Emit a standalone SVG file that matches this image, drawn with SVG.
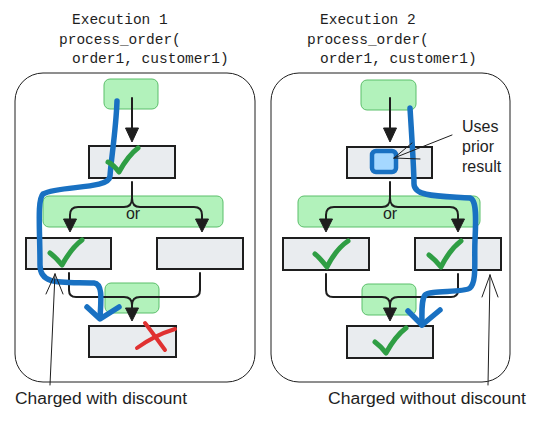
<svg xmlns="http://www.w3.org/2000/svg" width="538" height="421" viewBox="0 0 538 421">
<style>
.frame{fill:#ffffff;stroke:#1e1e1e;stroke-width:1}
.grn{fill:#b2f2bb;stroke:#5bbf6a;stroke-width:1}
.box{fill:#e9ecef;stroke:#1e1e1e;stroke-width:2}
.line{fill:none;stroke:#1e1e1e;stroke-width:2;stroke-linecap:round;stroke-linejoin:round}
.head{fill:#1e1e1e;stroke:#1e1e1e;stroke-width:1;stroke-linejoin:round}
.chk{fill:none;stroke:#2f9e44;stroke-width:5;stroke-linecap:round;stroke-linejoin:round}
.x{fill:none;stroke:#e03131;stroke-width:4;stroke-linecap:round}
.blue{fill:none;stroke:#1971c2;stroke-width:5.5;stroke-linecap:round;stroke-linejoin:round}
.thin{fill:none;stroke:#1e1e1e;stroke-width:1;stroke-linecap:round}
.mono{font-family:"Liberation Mono","DejaVu Sans Mono",monospace;font-size:14.5px;fill:#1e1e1e}
.hand{font-family:"Liberation Sans","DejaVu Sans",sans-serif;font-size:16px;fill:#1e1e1e}
</style>

<!-- Titles -->
<g id="title1">
<text class="mono" x="72" y="24">Execution 1</text>
<text class="mono" x="59" y="44">process_order(</text>
<text class="mono" x="72" y="63">order1, customer1)</text>
</g>
<g id="title2">
<text class="mono" x="320" y="24">Execution 2</text>
<text class="mono" x="307" y="44">process_order(</text>
<text class="mono" x="320" y="63">order1, customer1)</text>
</g>

<!-- Frames -->
<g id="frame1"><rect class="frame" x="15" y="73" width="240" height="309" rx="28"/></g>
<g id="frame2"><rect class="frame" x="271" y="73" width="239" height="309" rx="28"/></g>

<!-- Left panel nodes -->
<g id="l-start"><rect class="grn" x="104" y="79" width="54" height="30" rx="6"/></g>
<g id="l-or"><rect class="grn" x="43" y="196" width="180" height="31" rx="6"/>
<text class="hand" x="133" y="219" text-anchor="middle" font-size="17">or</text></g>
<g id="l-join"><rect class="grn" x="105" y="283" width="54" height="30" rx="6"/></g>
<g id="l-step1"><rect class="box" x="89" y="146" width="86" height="32"/></g>
<g id="l-left"><rect class="box" x="26" y="238" width="85" height="31"/></g>
<g id="l-right"><rect class="box" x="157" y="238" width="86" height="31"/></g>
<g id="l-final"><rect class="box" x="89" y="326" width="87" height="31"/></g>

<!-- Right panel nodes -->
<g id="r-start"><rect class="grn" x="361" y="80" width="55" height="30" rx="6"/></g>
<g id="r-or"><rect class="grn" x="298" y="196" width="182" height="31" rx="6"/>
<text class="hand" x="390" y="219" text-anchor="middle" font-size="17">or</text></g>
<g id="r-join"><rect class="grn" x="362" y="284" width="54" height="31" rx="6"/></g>
<g id="r-step1"><rect class="box" x="347" y="147" width="85" height="31"/></g>
<g id="r-left"><rect class="box" x="283" y="238" width="86" height="32"/></g>
<g id="r-right"><rect class="box" x="415" y="238" width="86" height="32"/></g>
<g id="r-final"><rect class="box" x="347" y="326" width="86" height="32"/></g>

<!-- Connectors -->
<g id="connectors">
<!-- left -->
<path class="line" d="M132,98 L132,130"/>
<polygon class="head" points="132,142 125.5,128 138.5,128"/>
<path class="line" d="M132,182 L132,198 Q132,207 124,207 L78,207 Q70,207 70,215 L70,222 M132,198 Q132,207 140,207 L194,207 Q202,207 202,215 L202,222"/>
<polygon class="head" points="70,232 63.5,219 76.5,219"/>
<polygon class="head" points="202,232 195.5,219 208.5,219"/>
<path class="line" d="M69,273 L69,290 Q69,297 76,297 L124,297 Q132,297 132,305 L132,310 M200,273 L200,290 Q200,297 193,297 L140,297 Q132,297 132,305"/>
<polygon class="head" points="132,321 125.5,308 138.5,308"/>
<!-- right -->
<path class="line" d="M390,98 L390,130"/>
<polygon class="head" points="390,142 383.5,128 396.5,128"/>
<path class="line" d="M390,182 L390,198 Q390,207 382,207 L334,207 Q326,207 326,215 L326,222 M390,198 Q390,207 398,207 L450,207 Q458,207 458,215 L458,222"/>
<polygon class="head" points="326,232 319.5,219 332.5,219"/>
<polygon class="head" points="458,232 451.5,219 464.5,219"/>
<path class="line" d="M326,274 L326,290 Q326,297 333,297 L382,297 Q390,297 390,305 L390,310 M458,274 L458,290 Q458,297 451,297 L398,297 Q390,297 390,305"/>
<polygon class="head" points="390,321 383.5,308 396.5,308"/>
</g>

<!-- Execution paths -->
<g id="path1">
<path class="blue" d="M117,101 C116,130 111,160 110,176 C109,190 60,185 43,194 C37,200 40,230 40,265 C40,286 62,282 94,283 C103,284 101,300 100,318"/>
<path class="blue" d="M87,307 L100,319 L119,307"/>
</g>
<g id="path2">
<path class="blue" d="M410,108 C412,140 414,170 414,184 C414,197 440,196 470,198 C477,200 476,220 475,240 C474,260 477,282 470,288 C464,293 430,290 425,295 C421,300 422,315 422,325"/>
<path class="blue" d="M408,311 L422,325 L440,310"/>
</g>

<!-- Marks -->
<g id="marks">
<path class="chk" d="M108,162 C112,164 116,168 119,172 C124,163 130,154 138,148"/>
<path class="chk" d="M50,253 C54,256 58,260 62,265 C67,256 74,246 82,240"/>
<path class="chk" d="M315,254 C319,257 323,262 327,267 C332,257 339,247 348,241"/>
<path class="chk" d="M429,255 C433,258 437,262 441,267 C446,257 453,247 461,241"/>
<path class="chk" d="M375,342 C379,345 383,349 386,353 C391,344 398,334 406,328"/>
<path class="x" d="M137,348 C148,340 162,333 175,329"/>
<path class="x" d="M145,323 C152,332 159,342 165,350"/>
<rect x="372" y="151" width="24" height="21" rx="4" fill="#a5d8ff" stroke="#1971c2" stroke-width="4.5"/>
</g>

<!-- Annotations -->
<g id="note-uses">
<path class="thin" d="M452,135 L394,158 M394,158 L412,143 M394,158 L420,159"/>
<text class="hand" x="462" y="132">Uses</text>
<text class="hand" x="462" y="152">prior</text>
<text class="hand" x="462" y="172">result</text>
</g>
<g id="note-with">
<path class="thin" d="M50,385 L55,274 M55,274 L46,294 M55,274 L63,294"/>
<text class="hand" x="15" y="404" textLength="172" lengthAdjust="spacingAndGlyphs">Charged with discount</text>
</g>
<g id="note-without">
<path class="thin" d="M488,385 L490,275 M490,275 L482,297 M490,275 L498,297"/>
<text class="hand" x="328" y="404" textLength="198" lengthAdjust="spacingAndGlyphs">Charged without discount</text>
</g>
</svg>
